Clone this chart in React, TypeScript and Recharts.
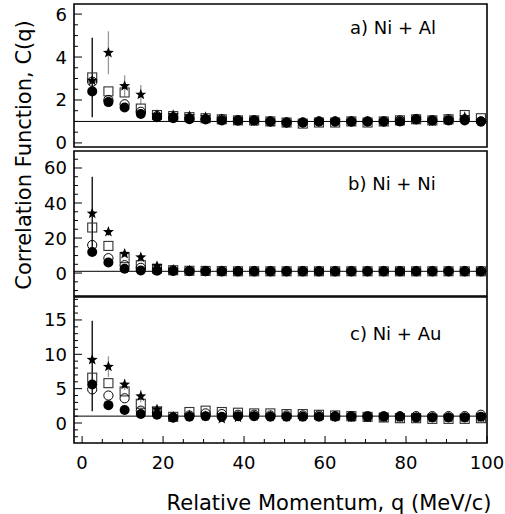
import React from "react";
import { ErrorBar, ReferenceArea, ReferenceLine, Scatter, ScatterChart, XAxis, YAxis } from "recharts";

const FONT = "DejaVu Sans";

const qBins = [2.5, 6.5, 10.5, 14.5, 18.5, 22.5, 26.5, 30.5, 34.5, 38.5, 42.5, 46.5, 50.5, 54.5, 58.5, 62.5, 66.5, 70.5, 74.5, 78.5, 82.5, 86.5, 90.5, 94.5, 98.5];

const xTicks = [0, 5, 10, 15, 20, 25, 30, 35, 40, 45, 50, 55, 60, 65, 70, 75, 80, 85, 90, 95, 100];
const xMajors = [0, 20, 40, 60, 80, 100];

// a) Ni + Al
const alFilled = [2.4, 1.9, 1.65, 1.35, 1.2, 1.15, 1.1, 1.1, 1.05, 1.05, 1.05, 1.0, 0.95, 0.95, 1.0, 1.0, 1.0, 1.0, 1.0, 1.0, 1.1, 1.05, 1.05, 1.05, 1.0];
const alOpen = [2.85, 2.0, 1.8, 1.45, 1.25, 1.2, 1.15, 1.1, 1.1, 1.05, 1.05, 1.0, 0.95, 0.95, 1.0, 1.0, 1.0, 1.0, 1.0, 1.05, 1.1, 1.05, 1.1, 1.1, 1.0];
const alSquare = [3.05, 2.4, 2.35, 1.6, 1.3, 1.25, 1.2, 1.15, 1.1, 1.05, 1.05, 1.0, 0.95, 0.9, 0.95, 0.95, 1.0, 0.95, 1.0, 1.05, 1.1, 1.05, 1.1, 1.3, 1.15];
const alStar = [2.9, 4.2, 2.65, 2.25, 1.3, 1.3, 1.25, 1.2, 1.1, 1.05, 1.0, 1.0, 0.95, 0.95, 1.0, 1.0, 1.0, 1.0, 1.0, 1.0, 1.1, 1.0, 1.05, 1.2, 1.0];
const alFilledErr = [[1.2, 2.5]];
const alStarErr = [null, [1.0, 1.0], [0.5, 0.5], [0.45, 0.45]];
const aTicks = [0, 0.5, 1, 1.5, 2, 2.5, 3, 3.5, 4, 4.5, 5, 5.5, 6];
const aMajors = [0, 2, 4, 6];

// b) Ni + Ni
const niFilled = [12, 6, 2.5, 1.5, 1.3, 1.2, 1.1, 1.0, 1.0, 1.0, 1.0, 1.0, 1.0, 1.0, 1.0, 1.0, 1.0, 1.0, 1.0, 1.0, 1.0, 1.0, 1.0, 1.0, 1.0];
const niOpen = [16, 8.5, 4.5, 3, 1.8, 1.5, 1.2, 1.1, 1.0, 1.0, 1.0, 1.0, 1.0, 1.0, 1.0, 1.0, 1.0, 1.0, 1.0, 1.0, 1.0, 1.0, 1.0, 1.0, 1.0];
const niSquare = [26, 15.5, 8.5, 4.5, 2.5, 1.6, 1.3, 1.2, 1.1, 1.0, 1.0, 1.0, 1.0, 1.0, 1.0, 1.0, 1.0, 1.0, 1.0, 1.0, 1.0, 1.0, 1.0, 1.0, 1.0];
const niStar = [34, 23.5, 11, 9, 4, 1.8, 1.4, 1.2, 1.1, 1.0, 1.0, 1.0, 1.0, 1.0, 1.0, 1.0, 1.0, 1.0, 1.0, 1.0, 1.0, 1.0, 1.0, 1.0, 1.0];
const niStarErr = [[21, 21], [2, 2], [1.5, 1.5], [1.2, 1.2]];
const bTicks = [-10, -5, 0, 5, 10, 15, 20, 25, 30, 35, 40, 45, 50, 55, 60, 65];
const bMajors = [0, 20, 40, 60];

// c) Ni + Au
const auFilled = [5.6, 2.6, 1.9, 1.3, 1.2, 0.8, 0.9, 1.0, 0.9, 1.0, 1.0, 0.9, 0.9, 0.9, 0.9, 0.9, 0.9, 0.9, 0.9, 0.9, 0.8, 0.8, 0.8, 0.8, 0.9];
const auOpen = [4.9, 4.0, 3.6, 1.8, 1.5, 0.8, 1.1, 1.4, 1.3, 1.2, 1.2, 1.1, 1.1, 1.1, 1.1, 1.0, 1.0, 1.0, 1.0, 1.0, 1.0, 1.0, 1.0, 1.0, 1.2];
const auSquare = [6.6, 5.8, 4.6, 2.8, 1.7, 0.9, 1.6, 1.8, 1.6, 1.5, 1.4, 1.4, 1.3, 1.3, 1.2, 1.1, 1.0, 0.9, 0.8, 0.7, 0.7, 0.6, 0.6, 0.6, 0.7];
const auStar = [9.2, 8.2, 5.6, 3.9, 2.0, 0.9, 1.1, 1.0, 0.6, 0.8, 1.0, 1.0, 0.9, 0.9, 0.9, 0.9, 0.8, 0.8, 0.8, 0.8, 0.8, 0.8, 0.8, 0.8, 0.8];
const auFilledErr = [[3.9, 9.3]];
const auStarErr = [null, [1.5, 1.5], [0.8, 0.8], [0.9, 0.9]];
const cTicks = [-2, -1, 0, 1, 2, 3, 4, 5, 6, 7, 8, 9, 10, 11, 12, 13, 14, 15, 16, 17, 18];
const cMajors = [0, 5, 10, 15];

const toPts = (vals: number[], errs: (number[] | null)[] = []) =>
  qBins.map((q, i) => ({ q, c: vals[i], err: errs[i] ?? undefined }));

// marker shapes
const filledDot = (p: any) => <circle cx={p.cx} cy={p.cy} r={5} fill="#000" />;
const openDot = (p: any) => <circle cx={p.cx} cy={p.cy} r={4.6} fill="none" stroke="#000" strokeWidth={1} />;
const openSquare = (p: any) => (
  <rect x={p.cx - 4.5} y={p.cy - 4.5} width={9} height={9} fill="none" stroke="#333" strokeWidth={1.1} />
);
const starShape = (p: any) => {
  const pts: string[] = [];
  for (let k = 0; k < 10; k++) {
    const r = k % 2 === 0 ? 5.8 : 2.4;
    const a = -Math.PI / 2 + (k * Math.PI) / 5;
    pts.push(`${p.cx + r * Math.cos(a)},${p.cy + r * Math.sin(a)}`);
  }
  return <polygon points={pts.join(" ")} fill="#000" />;
};

function Panel({
  top,
  height,
  mTop,
  mBottom,
  domain,
  yTicks,
  yMajors,
  filled,
  open,
  square,
  star,
  filledErr,
  starErr,
  starErrColor,
  labels,
  xHeight,
}: any) {
  const yTick = (p: any) => {
    const v = p.payload.value;
    const major = yMajors.includes(v);
    return (
      <g>
        <line x1={p.x} x2={p.x + (major ? 8 : 4)} y1={p.y} y2={p.y} stroke="#000" strokeWidth={1} />
        {major && (
          <text x={p.x - 7} y={p.y + 6.5} textAnchor="end" fontFamily={FONT} fontSize={18} fill="#000">
            {v}
          </text>
        )}
      </g>
    );
  };
  const xTick = (p: any) => {
    const v = p.payload.value;
    const major = xMajors.includes(v);
    return (
      <g>
        <line x1={p.x} x2={p.x} y1={p.y} y2={p.y - (major ? 7 : 4)} stroke="#000" strokeWidth={1} />
        {labels && major && (
          <text x={p.x} y={p.y + 26} textAnchor="middle" fontFamily={FONT} fontSize={18} fill="#000">
            {v}
          </text>
        )}
      </g>
    );
  };
  return (
    <div style={{ position: "absolute", left: 0, top, width: 505, height }}>
      <ScatterChart width={505} height={height} margin={{ top: mTop, right: 18, bottom: mBottom, left: 0 }}>
        <XAxis
          type="number"
          dataKey="q"
          domain={[-2, 100]}
          ticks={xTicks}
          interval={0}
          allowDataOverflow
          height={xHeight}
          tickSize={0}
          tickMargin={0}
          tickLine={false}
          axisLine={false}
          tick={xTick}
        />
        <YAxis
          type="number"
          dataKey="c"
          domain={domain}
          ticks={yTicks}
          interval={0}
          allowDataOverflow
          width={74}
          tickSize={0}
          tickMargin={0}
          tickLine={false}
          axisLine={false}
          tick={yTick}
        />
        <ReferenceLine y={1} stroke="#000" strokeWidth={1} />
        <ReferenceArea
          x1={-2}
          x2={100}
          y1={domain[0]}
          y2={domain[1]}
          ifOverflow="visible"
          fill="none"
          stroke="#000"
          strokeWidth={1.6}
        />
        <Scatter data={toPts(square)} shape={openSquare} isAnimationActive={false} />
        <Scatter data={toPts(open)} shape={openDot} isAnimationActive={false} />
        <Scatter data={toPts(star, starErr)} shape={starShape} isAnimationActive={false}>
          <ErrorBar dataKey="err" direction="y" width={0} stroke={starErrColor} strokeWidth={1.3} />
        </Scatter>
        <Scatter data={toPts(filled, filledErr)} shape={filledDot} isAnimationActive={false}>
          <ErrorBar dataKey="err" direction="y" width={0} stroke="#000" strokeWidth={1.3} />
        </Scatter>
      </ScatterChart>
    </div>
  );
}

export default function App() {
  return (
    <div style={{ position: "absolute", left: 0, top: 0, width: 505, height: 514, background: "#fff" }}>
      <Panel
        top={0}
        height={160}
        mTop={4}
        mBottom={13}
        xHeight={0}
        domain={[-0.19, 6.47]}
        yTicks={aTicks}
        yMajors={aMajors}
        filled={alFilled}
        open={alOpen}
        square={alSquare}
        star={alStar}
        filledErr={alFilledErr}
        starErr={alStarErr}
        starErrColor="#999"
      />
      <Panel
        top={150}
        height={157}
        mTop={1}
        mBottom={11}
        xHeight={0}
        domain={[-13.1, 69.7]}
        yTicks={bTicks}
        yMajors={bMajors}
        filled={niFilled}
        open={niOpen}
        square={niSquare}
        star={niStar}
        filledErr={[]}
        starErr={niStarErr}
        starErrColor="#000"
      />
      <Panel
        top={296}
        height={218}
        mTop={1}
        mBottom={0}
        xHeight={71}
        labels
        domain={[-2.91, 18.34]}
        yTicks={cTicks}
        yMajors={cMajors}
        filled={auFilled}
        open={auOpen}
        square={auSquare}
        star={auStar}
        filledErr={auFilledErr}
        starErr={auStarErr}
        starErrColor="#999"
      />
      <svg
        width={505}
        height={514}
        style={{ position: "absolute", left: 0, top: 0, pointerEvents: "none" }}
        fontFamily={FONT}
        fill="#000"
      >
        <text x={350} y={34} fontSize={18}>a) Ni + Al</text>
        <text x={348} y={190} fontSize={18}>b) Ni + Ni</text>
        <text x={350} y={340} fontSize={18}>c) Ni + Au</text>
        <text x={329} y={510} fontSize={21} textAnchor="middle">Relative Momentum, q (MeV/c)</text>
        <text x={31} y={155} fontSize={21} textAnchor="middle" transform="rotate(-90 31 155)">
          Correlation Function, C(q)
        </text>
      </svg>
    </div>
  );
}
